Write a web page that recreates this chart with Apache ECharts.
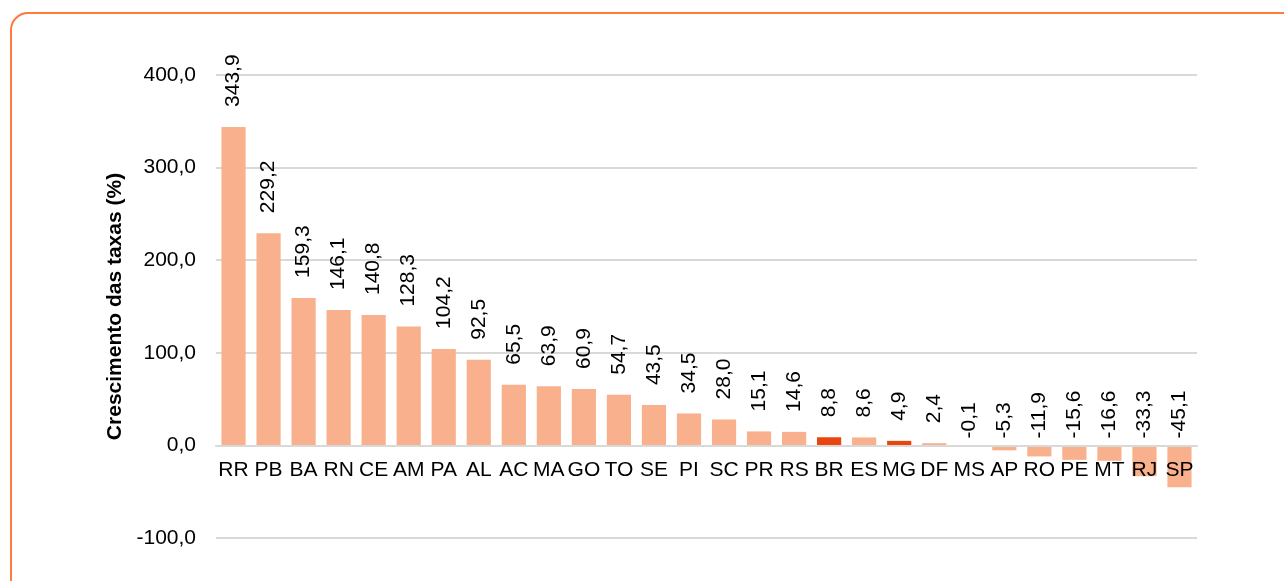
<!DOCTYPE html>
<html>
<head>
<meta charset="utf-8">
<script src="https://cdn.jsdelivr.net/npm/echarts@6/dist/echarts.min.js"></script>
<style>
html,body{margin:0;padding:0;background:#fff;}
#frame{position:absolute;left:10px;top:12px;width:1300px;height:600px;border:2px solid #FF7A3D;border-radius:18px;box-sizing:border-box;}
#chart{position:absolute;left:0;top:0;width:1284px;height:581px;}
</style>
</head>
<body>
<div id="frame"></div>
<div id="chart"></div>
<script>
const categories = ['RR','PB','BA','RN','CE','AM','PA','AL','AC','MA','GO','TO','SE','PI','SC','PR','RS','BR','ES','MG','DF','MS','AP','RO','PE','MT','RJ','SP'];
const values = [343.9,229.2,159.3,146.1,140.8,128.3,104.2,92.5,65.5,63.9,60.9,54.7,43.5,34.5,28.0,15.1,14.6,8.8,8.6,4.9,2.4,-0.1,-5.3,-11.9,-15.6,-16.6,-33.3,-45.1];
const highlighted = ['BR','MG'];
const yMin = -100, yMax = 400, yInterval = 100;
const yTitle = 'Crescimento das taxas (%)';

const fmt = v => v.toFixed(1).replace('.', ',');
const FONT = 'Liberation Sans';
const gridTop = 75, gridBottom = 43, H = 581;
const plotH = H - gridTop - gridBottom;
const zeroOffset = -plotH * (0 - yMin) / (yMax - yMin);

const chart = echarts.init(document.getElementById('chart'), null, {renderer:'canvas'});
const data = values.map((v,i)=>({
  value: v,
  itemStyle: {color: highlighted.includes(categories[i]) ? '#E8450F' : '#F8B18C'},
  label: {distance: v < 0 ? 7 : 20}
}));
chart.setOption({
  animation:false,
  grid:{left:216,right:87,top:gridTop,bottom:gridBottom,containLabel:false},
  xAxis:{
    type:'category', data:categories, position:'bottom', offset:zeroOffset, z:5,
    axisLine:{onZero:false,lineStyle:{color:'#D9D9D9',width:2}},
    axisTick:{show:false},
    axisLabel:{color:'#000',fontSize:21,fontFamily:FONT,margin:14,interval:0,hideOverlap:false}
  },
  yAxis:{
    type:'value', min:yMin, max:yMax, interval:yInterval,
    name:yTitle, nameLocation:'middle', nameGap:88,
    nameTextStyle:{color:'#000',fontSize:21,fontWeight:'bold',fontFamily:FONT},
    axisLine:{show:false}, axisTick:{show:false},
    splitLine:{lineStyle:{color:'#D9D9D9',width:2}},
    axisLabel:{color:'#000',fontSize:21,fontFamily:FONT,margin:20,formatter:v=>fmt(v)}
  },
  series:[{
    type:'bar', data:data, barCategoryGap:'31%', z:1,
    label:{show:true,position:'top',rotate:90,align:'left',verticalAlign:'middle',
      color:'#000',fontSize:21,fontFamily:FONT,formatter:p=>fmt(p.value)}
  }]
});
</script>
</body>
</html>
